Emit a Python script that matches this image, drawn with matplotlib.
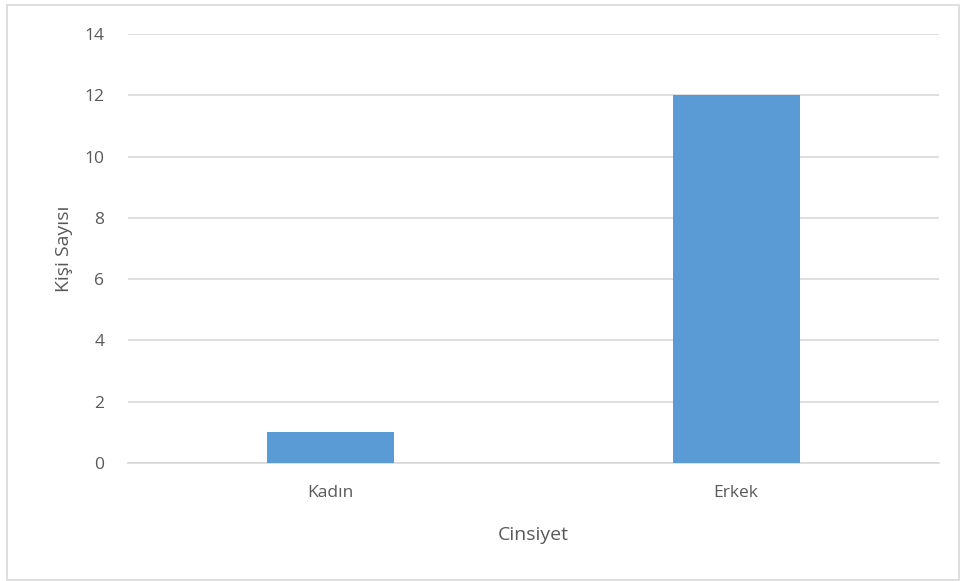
import matplotlib.pyplot as plt
from matplotlib.patches import Rectangle

plt.rcParams['font.family'] = ['Open Sans', 'DejaVu Sans']

categories = ['Kadın', 'Erkek']
counts = [1, 12]
yticks = [0, 2, 4, 6, 8, 10, 12, 14]

text_color = '#595959'
grid_color = '#d9d9d9'
bar_color = '#5b9bd5'

fig = plt.figure(figsize=(9.6, 5.81), dpi=100)
ax = fig.add_axes([0.1333, 0.2031, 0.8447, 0.7384])

x = range(len(categories))
ax.bar(x, counts, width=0.313, color=bar_color, zorder=3)

ax.set_xlim(-0.5, 1.5)
ax.set_ylim(0, 14)
ax.set_yticks(yticks)
ax.set_xticks(list(x))
ax.set_xticklabels(categories)
ax.tick_params(axis='both', length=0, colors=text_color, labelsize=12.5)
ax.tick_params(axis='x', pad=16)
ax.tick_params(axis='y', pad=17)
ax.yaxis.grid(True, color=grid_color, linewidth=1.2, zorder=0)
for side in ['top', 'right', 'left']:
    ax.spines[side].set_visible(False)
ax.spines['bottom'].set_color(grid_color)
ax.spines['bottom'].set_linewidth(1.2)

ax.set_xlabel('Cinsiyet', fontsize=14, color=text_color, labelpad=18)
ax.set_ylabel('Kişi Sayısı', fontsize=14, color=text_color, labelpad=8)

# light frame around the whole chart
fig.patches.append(Rectangle((7 / 960, 1 / 581), 952 / 960, 575 / 581,
                             transform=fig.transFigure, fill=False,
                             edgecolor='#d9d9d9', linewidth=1.2))

fig.savefig('out.png', dpi=100)
